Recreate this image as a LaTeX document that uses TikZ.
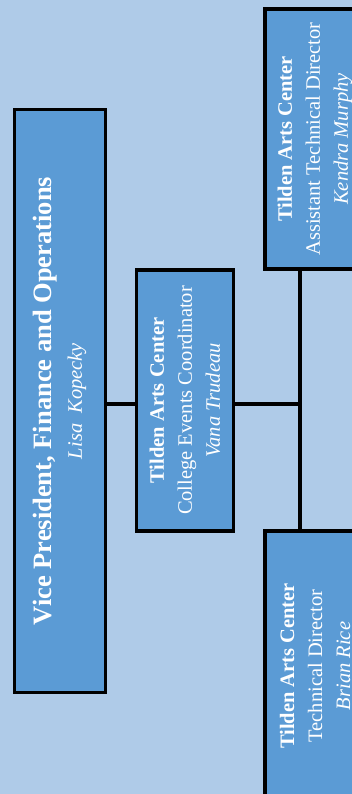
\documentclass[tikz,border=0pt]{standalone}
\usepackage{fontspec}
\setmainfont{Liberation Serif}
\usepackage{tikz}
\definecolor{TAbg}{HTML}{AFCBE8}
\definecolor{TAfill}{HTML}{5B9BD5}

\begin{document}
\begin{tikzpicture}[
  x=1pt, y=1pt,
  box/.style={draw=black, line width=3.5pt, fill=TAfill, rotate=90,
              text=white, align=center, inner sep=0pt,
              font=\fontsize{20.5}{28}\selectfont},
  link/.style={draw=black, line width=3.5pt},
]
\clip (0,0) rectangle (352,794);
\fill[TAbg] (0,0) rectangle (352,794);

\node[box, minimum width=583pt, minimum height=91pt,
      font=\fontsize{26.5}{30}\selectfont] (vp) at (60,393)
  {\textbf{Vice President, Finance and Operations}\\
   {\fontsize{20.5}{30}\selectfont\itshape Lisa\ \ Kopecky}};
\node[box, minimum width=261pt, minimum height=97pt] (coord) at (185,393.5)
  {\textbf{Tilden Arts Center}\\College Events Coordinator\\\textit{Vana Trudeau}};
\node[box, minimum width=260pt, minimum height=100pt] (asst) at (315,655)
  {\textbf{Tilden Arts Center}\\Assistant Technical Director\\\textit{Kendra Murphy}};
\node[box, minimum width=270pt, minimum height=100pt] (td) at (315,128)
  {\textbf{Tilden Arts Center}\\Technical Director\\\textit{Brian Rice}};

\coordinate (hub) at (300,390);
\draw[link] (vp.south |- hub) -- (coord.north |- hub);
\draw[link] (coord.south |- hub) -- (hub);
\draw[link] (asst.west -| hub) -- (td.east -| hub);
\end{tikzpicture}
\end{document}
